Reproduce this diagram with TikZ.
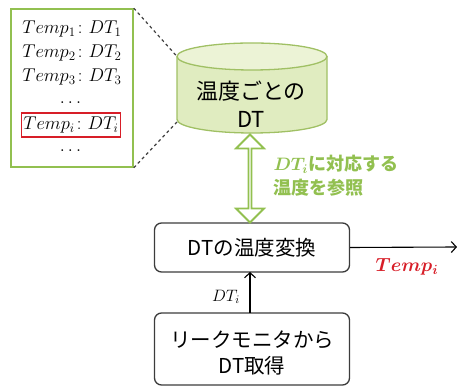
\RequirePackage{fix-cm}
\documentclass[tikz,border=0pt]{standalone}
\usepackage{amsmath}
\usepackage{fontspec}
\newfontfamily\jp{Noto Sans CJK JP}
\usetikzlibrary{arrows.meta,shapes.arrows}
\definecolor{lgreen}{RGB}{146,192,80}
\definecolor{cylfill}{RGB}{224,236,192}
\definecolor{cyltop}{RGB}{236,243,214}
\definecolor{cyledge}{RGB}{160,192,100}
\definecolor{boxedge}{RGB}{60,60,60}
\definecolor{tred}{RGB}{215,30,40}
\begin{document}
\begin{tikzpicture}[x=1pt,y=1pt,
  procbox/.style={draw=boxedge,line width=1.3pt,rounded corners=7pt,fill=white,
    minimum width=195pt,font=\jp\fontsize{20.5}{25}\selectfont,align=center},
  mathline/.style={font=\fontsize{18.5}{20}\selectfont},
  conn/.style={draw=black,line width=1.1pt,-{Straight Barb[length=5pt,width=11pt,line width=1.1pt]}},
  dashline/.style={dashed,line width=1.2pt,draw=black!75}]
\useasboundingbox (0,0) rectangle (457,387);
% left list box
\node[draw=lgreen,line width=1.6pt,minimum width=122pt,minimum height=158pt,inner sep=0pt] (lbox) at (72,299) {};
\node[mathline] (l1) at (72,358) {$Temp_1\colon DT_1$};
\node[mathline] (l2) at (72,334) {$Temp_2\colon DT_2$};
\node[mathline] (l3) at (72,310) {$Temp_3\colon DT_3$};
\node[mathline] (d1) at (72,284) {$\dots$};
\node[mathline,draw=tred,line width=1.3pt,minimum width=99pt,minimum height=24pt,inner sep=1pt] (li) at (71,262) {$Temp_i\colon DT_i$};
\node[mathline] (d2) at (72,236) {$\dots$};
% cylinder
\fill[cylfill] (177,330.5) -- (177,267.5) arc[start angle=180,end angle=360,x radius=75,y radius=13.5] -- (327,330.5) -- cycle;
\draw[cyledge,line width=1.3pt] (177,330.5) -- (177,267.5) arc[start angle=180,end angle=360,x radius=75,y radius=13.5] -- (327,330.5);
\draw[cyledge,line width=1.3pt,fill=cyltop] (252,330.5) ellipse[x radius=75,y radius=13.5];
\coordinate (cyltl) at (177,330.5);
\coordinate (cylbl) at (177,265);
\node[font=\jp\fontsize{22}{28}\selectfont,align=center] (cyl) at (251,283) {温度ごとの\\DT};
% dashed zoom lines
\draw[dashline] (lbox.north east) -- (cyltl);
\draw[dashline] (lbox.south east) -- (cylbl);
% process boxes
\node[procbox,minimum height=49pt] (conv) at (252,139.5) {DTの温度変換};
\node[procbox,minimum height=72pt,inner sep=2pt] (get) at (252,38) {};
\node[font=\jp\fontsize{20.5}{25.5}\selectfont,align=center] (gettext) at (252,34) {リークモニタから\\DT取得};
% double arrow
\node[double arrow,draw=lgreen,fill=white,line width=1.8pt,rotate=90,
  minimum height=88pt,minimum width=28pt,double arrow head extend=7.5pt,
  inner sep=0pt] (darr) at (250,208.5) {};
\node[font=\jp\bfseries\fontsize{18}{24}\selectfont,text=lgreen,anchor=west,align=left] (ref) at (270,211) {$\boldsymbol{DT_i}$に対応する\\温度を参照};
% output arrow
\coordinate (out) at (457,140);
\draw[conn] (conv.east) -- (out);
\node[text=tred,font=\fontsize{19}{20}\selectfont] (tout) at (407,120) {$\boldsymbol{Temp_i}$};
% input arrow
\coordinate (inb) at (250,74);
\coordinate (int) at (250,115);
\draw[conn] (inb) -- (int);
\node[font=\fontsize{16.5}{18}\selectfont] (dti) at (226,90) {$DT_i$};
\end{tikzpicture}
\end{document}
